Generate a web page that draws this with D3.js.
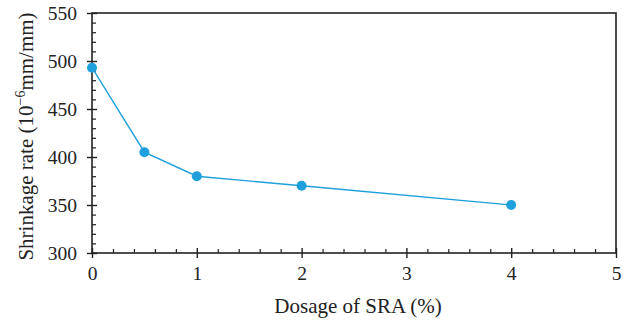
<!DOCTYPE html>
<html><head><meta charset="utf-8">
<script src="https://cdn.jsdelivr.net/npm/d3@7"></script>
<style>body{margin:0;background:#fff}svg{display:block}</style>
</head><body>
<svg id="c" width="631" height="324"></svg>
<script>
const dosage = [0, 0.5, 1, 2, 4];
const shrinkage = [493, 405, 380, 370, 350];
const xTicks = [0, 1, 2, 3, 4, 5];
const yTicks = [300, 350, 400, 450, 500, 550];

const svg = d3.select("#c");
const L = 92, R = 616, T = 13, B = 253;
const x = d3.scaleLinear().domain([0, 5]).range([L, R]);
const y = d3.scaleLinear().domain([300, 550]).range([B, T]);
const font = "'Liberation Serif', 'DejaVu Serif', serif";
const col = "#1f9fdb";

// frame
svg.append("rect").attr("x", L).attr("y", T).attr("width", R - L).attr("height", B - T)
  .attr("fill", "none").attr("stroke", "#222").attr("stroke-width", 1.6);

// minor ticks
const xMinor = d3.range(0, 5.001, 0.2).filter(v => Math.abs(v - Math.round(v)) > 1e-6);
svg.append("g").attr("transform", `translate(0,${B})`)
  .call(d3.axisBottom(x).tickValues(xMinor).tickSize(-4).tickFormat(""))
  .call(g => g.select(".domain").remove())
  .selectAll("line").attr("stroke", "#222").attr("stroke-width", 1.2);
const yMinor = d3.range(300, 551, 10).filter(v => v % 50 !== 0);
svg.append("g").attr("transform", `translate(${L},0)`)
  .call(d3.axisLeft(y).tickValues(yMinor).tickSize(-4).tickFormat(""))
  .call(g => g.select(".domain").remove())
  .selectAll("line").attr("stroke", "#222").attr("stroke-width", 1.2);

// major ticks (crossing)
const xAx = svg.append("g").attr("transform", `translate(0,${B})`)
  .call(d3.axisBottom(x).tickValues(xTicks).tickSize(5).tickPadding(8).tickFormat(d3.format("d")));
xAx.select(".domain").remove();
xAx.selectAll("line").attr("y1", -5).attr("stroke", "#222").attr("stroke-width", 1.4);
xAx.selectAll("text").attr("font-family", font).attr("font-size", 19.5).attr("fill", "#222");

const yAx = svg.append("g").attr("transform", `translate(${L},0)`)
  .call(d3.axisLeft(y).tickValues(yTicks).tickSize(5).tickPadding(10).tickFormat(d3.format("d")));
yAx.select(".domain").remove();
yAx.selectAll("line").attr("x1", 5).attr("stroke", "#222").attr("stroke-width", 1.4);
yAx.selectAll("text").attr("font-family", font).attr("font-size", 19.5).attr("fill", "#222");

// line + points
const pts = dosage.map((d, i) => [d, shrinkage[i]]);
svg.append("path").datum(pts)
  .attr("d", d3.line().x(d => x(d[0])).y(d => y(d[1])))
  .attr("fill", "none").attr("stroke", col).attr("stroke-width", 1.4);
svg.selectAll("circle.pt").data(pts).enter()
  .append("circle").attr("class", "pt")
  .attr("cx", d => x(d[0])).attr("cy", d => y(d[1])).attr("r", 5).attr("fill", col);

// axis titles
svg.append("text").attr("x", 358).attr("y", 313).attr("text-anchor", "middle")
  .attr("font-family", font).attr("font-size", 21).attr("fill", "#222").text("Dosage of SRA (%)");
const yt = svg.append("text").attr("transform", `translate(33,136.5) rotate(-90)`)
  .attr("text-anchor", "middle").attr("font-family", font).attr("font-size", 21).attr("fill", "#222");
yt.append("tspan").text("Shrinkage rate (10");
yt.append("tspan").attr("dy", -8).attr("font-size", 14).text("\u22126");
yt.append("tspan").attr("dy", 8).text("mm/mm)");
</script>
</body></html>
